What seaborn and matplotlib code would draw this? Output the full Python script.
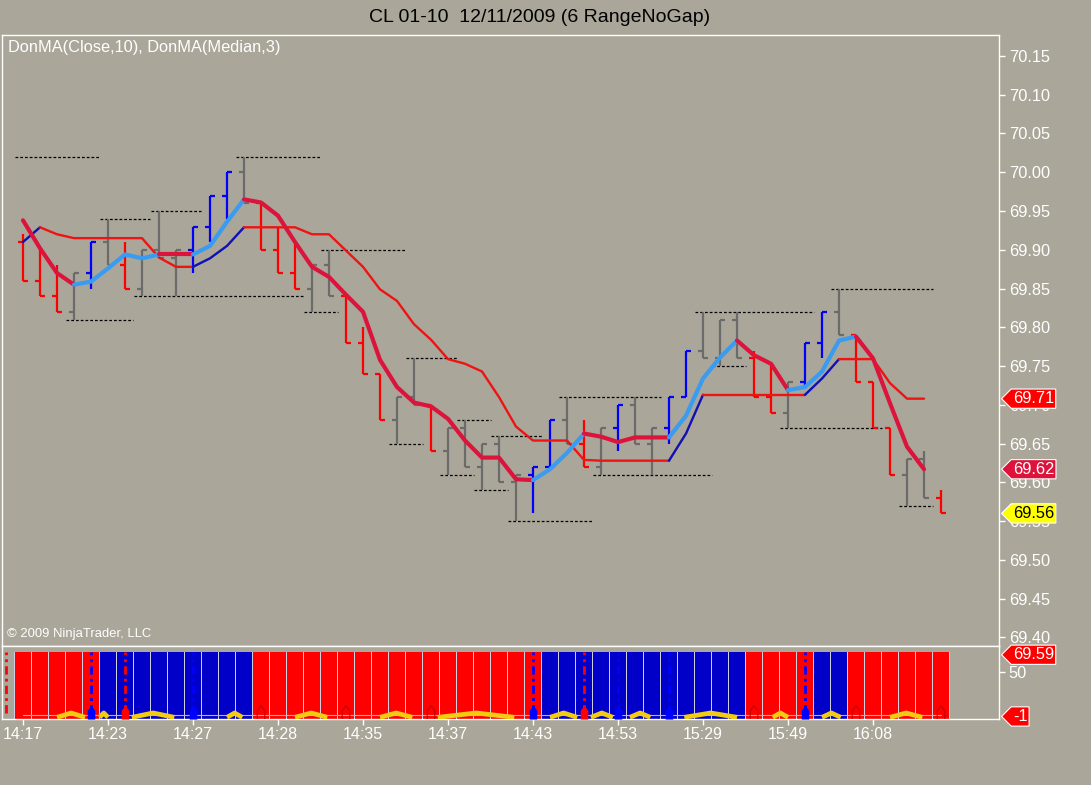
import numpy as np
import pandas as pd
import seaborn as sns
import matplotlib.pyplot as plt
from matplotlib.path import Path

# CL 01-10, 6 tick range bars (no gap), one entry per bar
opens = [69.91, 69.86, 69.84, 69.82, 69.87, 69.91, 69.88, 69.85, 69.90, 69.89,
         69.90, 69.93, 69.97, 70.00, 69.96, 69.90, 69.87, 69.85, 69.88, 69.84,
         69.78, 69.74, 69.68, 69.71, 69.70, 69.64, 69.67, 69.62, 69.65, 69.60,
         69.61, 69.62, 69.68, 69.65, 69.62, 69.67, 69.70, 69.65, 69.67, 69.71,
         69.77, 69.76, 69.81, 69.76, 69.71, 69.69, 69.73, 69.78, 69.82, 69.79,
         69.73, 69.67, 69.61, 69.63, 69.58]
highs = [69.92, 69.90, 69.88, 69.87, 69.91, 69.94, 69.91, 69.90, 69.95, 69.90,
         69.93, 69.97, 70.00, 70.02, 69.96, 69.93, 69.91, 69.88, 69.90, 69.84,
         69.80, 69.74, 69.71, 69.76, 69.70, 69.67, 69.68, 69.65, 69.66, 69.61,
         69.62, 69.68, 69.71, 69.68, 69.67, 69.70, 69.71, 69.67, 69.71, 69.77,
         69.82, 69.81, 69.82, 69.77, 69.75, 69.73, 69.78, 69.82, 69.85, 69.79,
         69.73, 69.67, 69.63, 69.64, 69.59]
lows = [69.86, 69.84, 69.82, 69.81, 69.85, 69.88, 69.85, 69.84, 69.89, 69.84,
        69.87, 69.91, 69.94, 69.96, 69.90, 69.87, 69.85, 69.82, 69.84, 69.78,
        69.74, 69.68, 69.65, 69.70, 69.64, 69.61, 69.62, 69.59, 69.60, 69.55,
        69.56, 69.62, 69.65, 69.62, 69.61, 69.64, 69.65, 69.61, 69.65, 69.71,
        69.76, 69.75, 69.76, 69.71, 69.69, 69.67, 69.72, 69.76, 69.79, 69.73,
        69.67, 69.61, 69.57, 69.58, 69.56]
closes = [69.86, 69.84, 69.82, 69.87, 69.91, 69.88, 69.85, 69.90, 69.89, 69.90,
          69.93, 69.97, 70.00, 69.96, 69.90, 69.87, 69.85, 69.88, 69.84, 69.78,
          69.74, 69.68, 69.71, 69.70, 69.64, 69.67, 69.62, 69.65, 69.60, 69.61,
          69.62, 69.68, 69.65, 69.62, 69.67, 69.70, 69.65, 69.67, 69.71, 69.77,
          69.76, 69.81, 69.76, 69.71, 69.69, 69.73, 69.78, 69.82, 69.79, 69.73,
          69.67, 69.61, 69.63, 69.58, 69.56]
# painted bar colour: r = down, b = up, g = neutral
bar_kind = list("rrrgbgrggg" "bbbgrrrggr" "rrggrggggg" "bbgrgbggbb" "gggrrgbbgr" "rrggr")

# DonMA(Close,10) and DonMA(Median,3)
ma_close10 = [69.910, 69.929, 69.920, 69.915, 69.915, 69.915, 69.915, 69.915, 69.890, 69.878,
              69.878, 69.889, 69.905, 69.929, 69.929, 69.929, 69.929, 69.920, 69.920, 69.899,
              69.878, 69.849, 69.834, 69.804, 69.784, 69.759, 69.753, 69.743, 69.710, 69.672,
              69.654, 69.654, 69.654, 69.629, 69.628, 69.628, 69.628, 69.628, 69.628, 69.663,
              69.713, 69.713, 69.713, 69.713, 69.713, 69.713, 69.713, 69.734, 69.759, 69.759,
              69.759, 69.728, 69.708, 69.708]
ma_median3 = [69.938, 69.902, 69.870, 69.855, 69.859, 69.876, 69.894, 69.889, 69.894, 69.894,
              69.894, 69.905, 69.936, 69.965, 69.961, 69.944, 69.910, 69.878, 69.865, 69.842,
              69.820, 69.758, 69.723, 69.703, 69.698, 69.682, 69.654, 69.632, 69.632, 69.604,
              69.603, 69.617, 69.638, 69.663, 69.659, 69.652, 69.658, 69.658, 69.658, 69.686,
              69.734, 69.761, 69.783, 69.764, 69.753, 69.719, 69.723, 69.743, 69.783, 69.788,
              69.760, 69.702, 69.646, 69.617]
median3_up = [0, 0, 0, 0, 1, 1, 1, 1, 1, 0,
              0, 1, 1, 1, 0, 0, 0, 0, 0, 0,
              0, 0, 0, 0, 0, 0, 0, 0, 0, 0,
              0, 1, 1, 1, 0, 0, 0, 0, 0, 1,
              1, 1, 1, 0, 0, 0, 1, 1, 1, 1,
              0, 0, 0, 0]

# swing high / low levels (start bar, end bar, price)
dash_start = [-1, 12, 7, 4, 17, 6, 2, 16, 22, 21, 25, 24, 27, 26, 28, 31, 33, 39, 40, 44, 47, 51]
dash_end = [4, 17, 10, 7, 22, 16, 6, 18, 25, 23, 27, 26, 30, 28, 33, 37, 40, 46, 42, 50, 53, 53]
dash_level = [70.02, 70.02, 69.95, 69.94, 69.90, 69.84, 69.81, 69.82, 69.76, 69.65, 69.68,
              69.61, 69.66, 69.59, 69.55, 69.71, 69.61, 69.82, 69.75, 69.67, 69.85, 69.57]

# lower panel
col_state = list("rrrrrbbbbb" "bbbbrrrrrr" "rrrrrrrrrr" "rbbbbbbbbb" "bbbrrrrbbr" "rrrrr")
col_top = 72.8
dd_red = [-1, 6, 33]
dd_blue = [4, 10, 30, 35, 38, 46]
mk_blue = [4, 10, 30, 35, 38, 46]
mk_red = [6, 33]
mk_hollow = [14, 19, 24, 43, 49, 54]
mk_level = 2.5
yel_start = [2.0, 4.5, 6.4, 12.0, 16.0, 21.0, 24.4, 31.0, 33.4, 35.7, 38.9, 44.1, 47.0, 51.0]
yel_end = [3.65, 5.0, 8.9, 12.9, 17.9, 22.9, 28.9, 32.6, 34.7, 36.9, 42.0, 45.0, 48.1, 52.9]
yel_lo, yel_hi = -2.0, 3.0
base_level = 0.7
osc_marks = [69.59, -1]

time_ticks = [0, 5, 10, 15, 20, 25, 30, 35, 40, 45, 50]
time_labels = ["14:17", "14:23", "14:27", "14:28", "14:35", "14:37",
               "14:43", "14:53", "15:29", "15:49", "16:08"]
price_ticks = [69.40, 69.45, 69.50, 69.55, 69.60, 69.65, 69.70, 69.75,
               69.80, 69.85, 69.90, 69.95, 70.00, 70.05, 70.10, 70.15]

sns.set_style("white")
plt.rcParams['font.family'] = ['Liberation Sans', 'DejaVu Sans']

BG = "#aaa699"
fig = plt.figure(figsize=(10.91, 7.85), dpi=100, facecolor=BG)
ax = fig.add_axes([0.00183, 0.17707, 0.91384, 0.77834], facecolor=BG)
ax2 = fig.add_axes([0.00183, 0.08408, 0.91384, 0.09299], facecolor=BG, sharex=ax)

n = len(opens)
x = np.arange(n)
kind_color = {"r": "#ff0000", "b": "#0000ff", "g": "#6b6b6b"}
cols = [kind_color[k] for k in bar_kind]

# OHLC bars
ax.vlines(x, lows, highs, colors=cols, lw=1.6, zorder=3)
ax.hlines(opens, x - 0.32, x, colors=cols, lw=1.6, zorder=3)
ax.hlines(closes, x, x + 0.32, colors=cols, lw=1.6, zorder=3)

for s, e, lv in zip(dash_start, dash_end, dash_level):
    ax.plot([s + 0.55, e + 0.5], [lv, lv], color="black", lw=0.9,
            ls=(0, (2.2, 1.6)), zorder=2)


def seg_frame(vals, up):
    rows = []
    run = 0
    for i in range(1, len(vals)):
        if i > 1 and up[i] != up[i - 1]:
            run += 1
        rows.append((f"s{run}", i - 1, vals[i - 1], up[i]))
        rows.append((f"s{run}", i, vals[i], up[i]))
    return pd.DataFrame(rows, columns=["run", "bar", "val", "up"])


close_up = [0] + [int(b > a) for a, b in zip(ma_close10[:-1], ma_close10[1:])]
df_thin = seg_frame(ma_close10, close_up)
df_thick = seg_frame(ma_median3, median3_up)
pal_thin = {r: ("#1010b4" if u else "#ee1414") for r, u in zip(df_thin.run, df_thin.up)}
pal_thick = {r: ("#3a9cf0" if u else "#dc143c") for r, u in zip(df_thick.run, df_thick.up)}

sns.lineplot(data=df_thin, x="bar", y="val", hue="run", palette=pal_thin,
             estimator=None, sort=False, legend=False, lw=1.7, ax=ax, zorder=4)
sns.lineplot(data=df_thick, x="bar", y="val", hue="run", palette=pal_thick,
             estimator=None, sort=False, legend=False, lw=3.0, ax=ax, zorder=5)

# lower panel columns
col_color = {"r": "#ff0000", "b": "#0000c8"}
ybot = -3.9
ax2.bar(x, col_top - ybot, bottom=ybot, width=1.0, color="#cfcde2", lw=0, zorder=1)
ax2.bar(x, col_top - ybot, bottom=ybot, width=0.9,
        color=[col_color[c] for c in col_state], lw=0, zorder=2)
ax2.vlines(dd_red, mk_level, col_top, colors="#ff0000", lw=2.0,
           linestyles=[(0, (3, 1.5, 1, 1.5))], zorder=3)
ax2.vlines(dd_blue, mk_level, col_top, colors="#0000ff", lw=2.0,
           linestyles=[(0, (3, 1.5, 1, 1.5))], zorder=3)
ax2.plot([x[0], x[-1]], [base_level, base_level], color="#d8b868", lw=0.8, zorder=3)
for s, e in zip(yel_start, yel_end):
    ax2.plot([s, (s + e) / 2, e], [yel_lo, yel_hi, yel_lo], color="#f2cc10",
             lw=3.4, zorder=4, solid_capstyle="butt", solid_joinstyle="round")

house = Path([(0, 1), (-0.5, 0.35), (-0.5, -0.8), (0.5, -0.8), (0.5, 0.35), (0, 1)],
             [Path.MOVETO] + [Path.LINETO] * 4 + [Path.CLOSEPOLY])
ax2.scatter(mk_blue, [mk_level] * len(mk_blue), marker=house, s=120, c="#0000ff",
            lw=0, zorder=5)
ax2.scatter(mk_red, [mk_level] * len(mk_red), marker=house, s=120, c="#ff0000",
            lw=0, zorder=5)
ax2.scatter(mk_hollow, [mk_level] * len(mk_hollow), marker=house, s=120,
            facecolors="none", edgecolors="#c00000", lw=0.8, zorder=5)

# axes styling
for a in (ax, ax2):
    a.set_xlim(-1.235, 57.41)
    a.set_xlabel("")
    a.set_ylabel("")
    for sp in a.spines.values():
        sp.set_color("white")
        sp.set_linewidth(1.0)
    a.yaxis.tick_right()
    a.tick_params(axis="y", right=True, left=False, colors="white", labelcolor="white",
                  labelsize=11.8, length=4, width=1, direction="out", pad=3)

ax.set_ylim(69.389, 70.177)
ax.set_yticks(price_ticks)
ax.set_yticklabels([f"{p:.2f}" for p in price_ticks])
ax.tick_params(axis="x", bottom=False, labelbottom=False)

ax2.set_ylim(ybot, 79.6)
ax2.set_yticks([50])
ax2.set_yticklabels(["50"])
ax2.set_xticks(time_ticks)
ax2.set_xticklabels(time_labels)
ax2.tick_params(axis="x", bottom=True, colors="white", labelcolor="white",
                labelsize=11.5, length=4, width=1, direction="out", pad=2)


def tag_box(x0, y0, width, height, mutation_size):
    pad = 0.13 * mutation_size
    x0, y0 = x0 - pad * 0.8, y0 - pad
    width, height = width + pad * 1.6, height + 2 * pad
    tip = 0.5 * height
    verts = [(x0 - tip, y0 + height / 2), (x0, y0), (x0 + width, y0),
             (x0 + width, y0 + height), (x0, y0 + height), (x0 - tip, y0 + height / 2)]
    return Path(verts, [Path.MOVETO] + [Path.LINETO] * 4 + [Path.CLOSEPOLY])


def tag(a, val, fc, tc, label=None):
    a.annotate(label if label is not None else f"{val:.2f}", xy=(1, val),
               xycoords=("axes fraction", "data"), xytext=(10, 0),
               textcoords="offset points", ha="left", va="center",
               fontsize=11.8, color=tc, annotation_clip=False, zorder=10,
               bbox=dict(boxstyle=tag_box, fc=fc, ec="white", lw=0.8))


tag(ax, ma_close10[-1], "#ff0000", "white")
tag(ax, ma_median3[-1], "#dc143c", "white")
tag(ax, closes[-1], "#ffff00", "black")
tag(ax2, osc_marks[0], "#ff0000", "white")
tag(ax2, osc_marks[1], "#ff0000", "white", label=f"{osc_marks[1]:d}")

fig.text(0.495, 1 - 17 / 785, "CL 01-10  12/11/2009 (6 RangeNoGap)",
         ha="center", va="center", fontsize=14, color="black")
ax.text(0.006, 0.980, "DonMA(Close,10), DonMA(Median,3)", transform=ax.transAxes,
        ha="left", va="center", fontsize=11.8, color="white")
ax.text(0.005, 0.0196, "\u00a9 2009 NinjaTrader, LLC", transform=ax.transAxes,
        ha="left", va="center", fontsize=9.4, color="white")

fig.savefig("out.png", dpi=100, facecolor=BG)
